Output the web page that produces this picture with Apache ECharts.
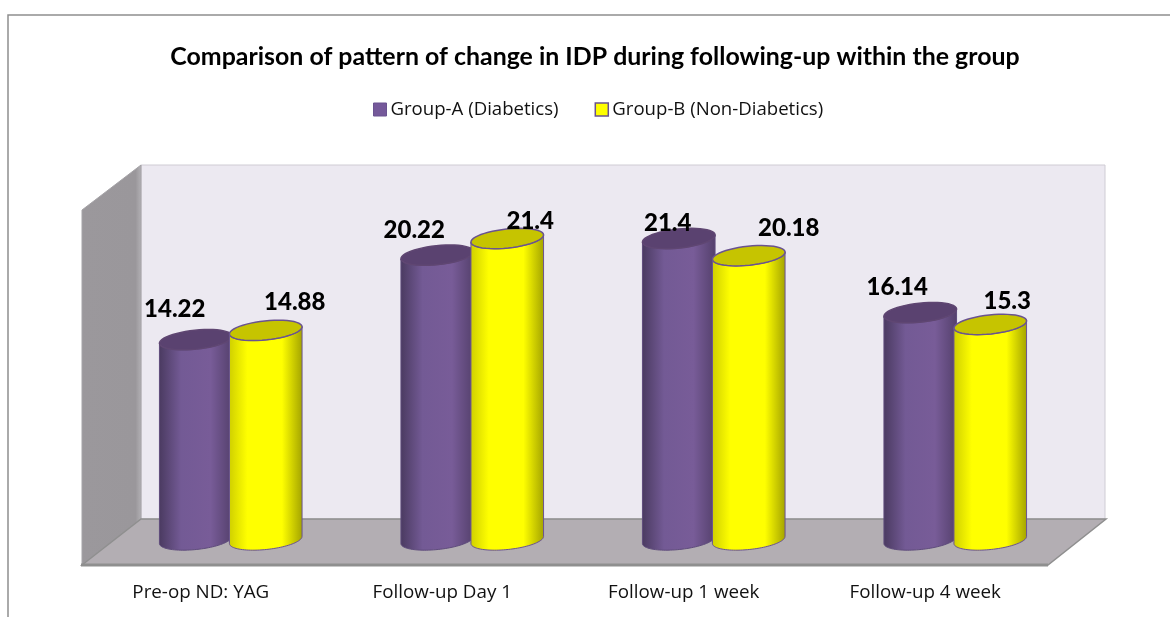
<!DOCTYPE html>
<html>
<head>
<meta charset="utf-8">
<title>IDP comparison</title>
<script src="https://cdn.jsdelivr.net/npm/echarts@6/dist/echarts.min.js"></script>
<style>
html,body{margin:0;padding:0;background:#fff;}
#main{width:1170px;height:617px;}
</style>
</head>
<body>
<div id="main"></div>
<script>
var categories = ['Pre-op ND: YAG', 'Follow-up Day 1', 'Follow-up 1 week', 'Follow-up 4 week'];
var groupA = [14.22, 20.22, 21.4, 16.14];
var groupB = [14.88, 21.4, 20.18, 15.3];

// hand placed labels, the original chart has them dragged around
var labelNudgeA = [[-21, -30], [-23, -25], [-11, -15], [-23, -25]];
var labelNudgeB = [[29, -28], [23, -17], [40, -27], [17, -23]];

// bars stand in the middle of the floor, not on the front edge
var depthX = 28, depthY = 25;
var halfGap = 35, rx = 36.5, ry = 9.5, tilt = 6 * Math.PI / 180;

function ellipsePts(cx, cy, from, to) {
	var pts = [];
	for (var i = 0; i <= 48; i++) {
		var t = from + (to - from) * i / 48;
		var x = rx * Math.cos(t), y = ry * Math.sin(t);
		pts.push([cx + x * Math.cos(tilt) + y * Math.sin(tilt), cy - x * Math.sin(tilt) + y * Math.cos(tilt)]);
	}
	return pts;
}

function cylinder(side, stops, topColor, edge, topEdge, nudge) {
	return function (params, api) {
		var top = api.coord([api.value(0), api.value(1)]);
		var base = api.coord([api.value(0), 0]);
		var cx = top[0] + depthX + side * halfGap;
		var cyT = top[1] - depthY, cyB = base[1] - depthY;
		// front half of the bottom ellipse, then back up along the top one
		var body = ellipsePts(cx, cyB, 0, Math.PI).concat(ellipsePts(cx, cyT, Math.PI, 0));
		var n = nudge[params.dataIndex];
		return {
			type: 'group',
			children: [{
				type: 'polygon',
				shape: { points: body },
				style: {
					fill: new echarts.graphic.LinearGradient(0, 0, 1, 0, stops),
					stroke: edge, lineWidth: 1
				}
			}, {
				type: 'polygon',
				shape: { points: ellipsePts(cx, cyT, 0, Math.PI * 2) },
				style: { fill: topColor, stroke: topEdge, lineWidth: 1.5 }
			}, {
				type: 'text',
				style: {
					x: cx + n[0], y: cyT + n[1],
					text: String(api.value(1)),
					fill: '#000', font: '900 24px Lato',
					align: 'center', verticalAlign: 'middle'
				},
				z2: 10
			}]
		};
	};
}

var purpleStops = [
	{ offset: 0, color: '#4a3a60' }, { offset: 0.3, color: '#735a95' },
	{ offset: 0.7, color: '#785c98' }, { offset: 1, color: '#54406c' }
];
var yellowStops = [
	{ offset: 0, color: '#cfcf00' }, { offset: 0.25, color: '#ffff00' },
	{ offset: 0.72, color: '#ffff00' }, { offset: 1, color: '#a3a300' }
];

var myChart = echarts.init(document.getElementById('main'));
var option = {
	animation: false,
	backgroundColor: '#fff',
	title: {
		text: 'Comparison of pattern of change in IDP during following-up within the group',
		left: 590, top: 39, textAlign: 'center',
		textStyle: { fontFamily: 'Lato', fontWeight: 'bold', fontSize: 24.9, color: '#000' }
	},
	legend: {
		left: 368, top: 95, itemGap: 36, itemWidth: 13, itemHeight: 13,
		icon: 'rect',
		textStyle: { fontFamily: 'Open Sans', fontSize: 18.6, color: '#111', padding: [0, 0, 0, -1] },
		data: [
			{ name: 'Group-A (Diabetics)', itemStyle: { color: '#75599a', borderColor: '#6a5390', borderWidth: 1 } },
			{ name: 'Group-B (Non-Diabetics)', itemStyle: { color: '#ffff00', borderColor: '#6a5390', borderWidth: 1.5 } }
		]
	},
	grid: { left: 80, width: 966, top: 210, height: 355 },
	xAxis: {
		type: 'category', data: categories,
		axisTick: { show: false },
		axisLine: { show: false },
		axisLabel: { fontFamily: 'Open Sans', fontSize: 18.8, color: '#111', margin: 18 },
		z: 3
	},
	yAxis: { type: 'value', min: 0, max: 25.2, show: false, splitLine: { show: false } },
	graphic: [
		// outer frame, open on the right
		{ type: 'polyline', shape: { points: [[8, 617], [8, 15], [1170, 15]] },
			style: { fill: null, stroke: '#8e8e8e', lineWidth: 1.5 }, z: 0 },
		// back wall
		{ type: 'polygon', shape: { points: [[141, 165], [1105, 165], [1105, 519], [141, 519]] },
			style: { fill: '#ece9f1', stroke: '#cfccd4', lineWidth: 1 }, z: 0 },
		// side wall
		{ type: 'polygon', shape: { points: [[82, 210], [141, 165], [141, 519], [82, 565]] },
			style: {
				fill: new echarts.graphic.LinearGradient(0, 0, 1, 0, [
					{ offset: 0, color: '#9b989c' }, { offset: 0.9, color: '#9a979b' }, { offset: 1, color: '#b3b1b5' }
				]),
				stroke: '#a5a3a7', lineWidth: 1
			}, z: 0 },
		// floor, with the heavier front edge
		{ type: 'polygon', shape: { points: [[82, 565], [141, 519], [1106, 519], [1048, 565]] },
			style: { fill: '#b3aeb3', stroke: '#8f8f8f', lineWidth: 1.5 }, z: 0 },
		{ type: 'line', shape: { x1: 81, y1: 565, x2: 1048, y2: 565 },
			style: { stroke: '#8f8f8f', lineWidth: 3 }, z: 0 }
	],
	series: [{
		name: 'Group-A (Diabetics)',
		type: 'custom',
		renderItem: cylinder(-1, purpleStops, '#5a4270', '#5f4c7c', '#5f4672', labelNudgeA),
		encode: { x: 0, y: 1 },
		itemStyle: { color: '#75599a' },
		data: groupA.map(function (v, i) { return [i, v]; }),
		z: 2
	}, {
		name: 'Group-B (Non-Diabetics)',
		type: 'custom',
		renderItem: cylinder(1, yellowStops, '#c6c400', '#6a5390', '#6a5390', labelNudgeB),
		encode: { x: 0, y: 1 },
		itemStyle: { color: '#ffff00' },
		data: groupB.map(function (v, i) { return [i, v]; }),
		z: 3
	}]
};
// grid moved 2px left for the labels, keep the bars where they were
depthX += 2;
myChart.setOption(option);
</script>
</body>
</html>
